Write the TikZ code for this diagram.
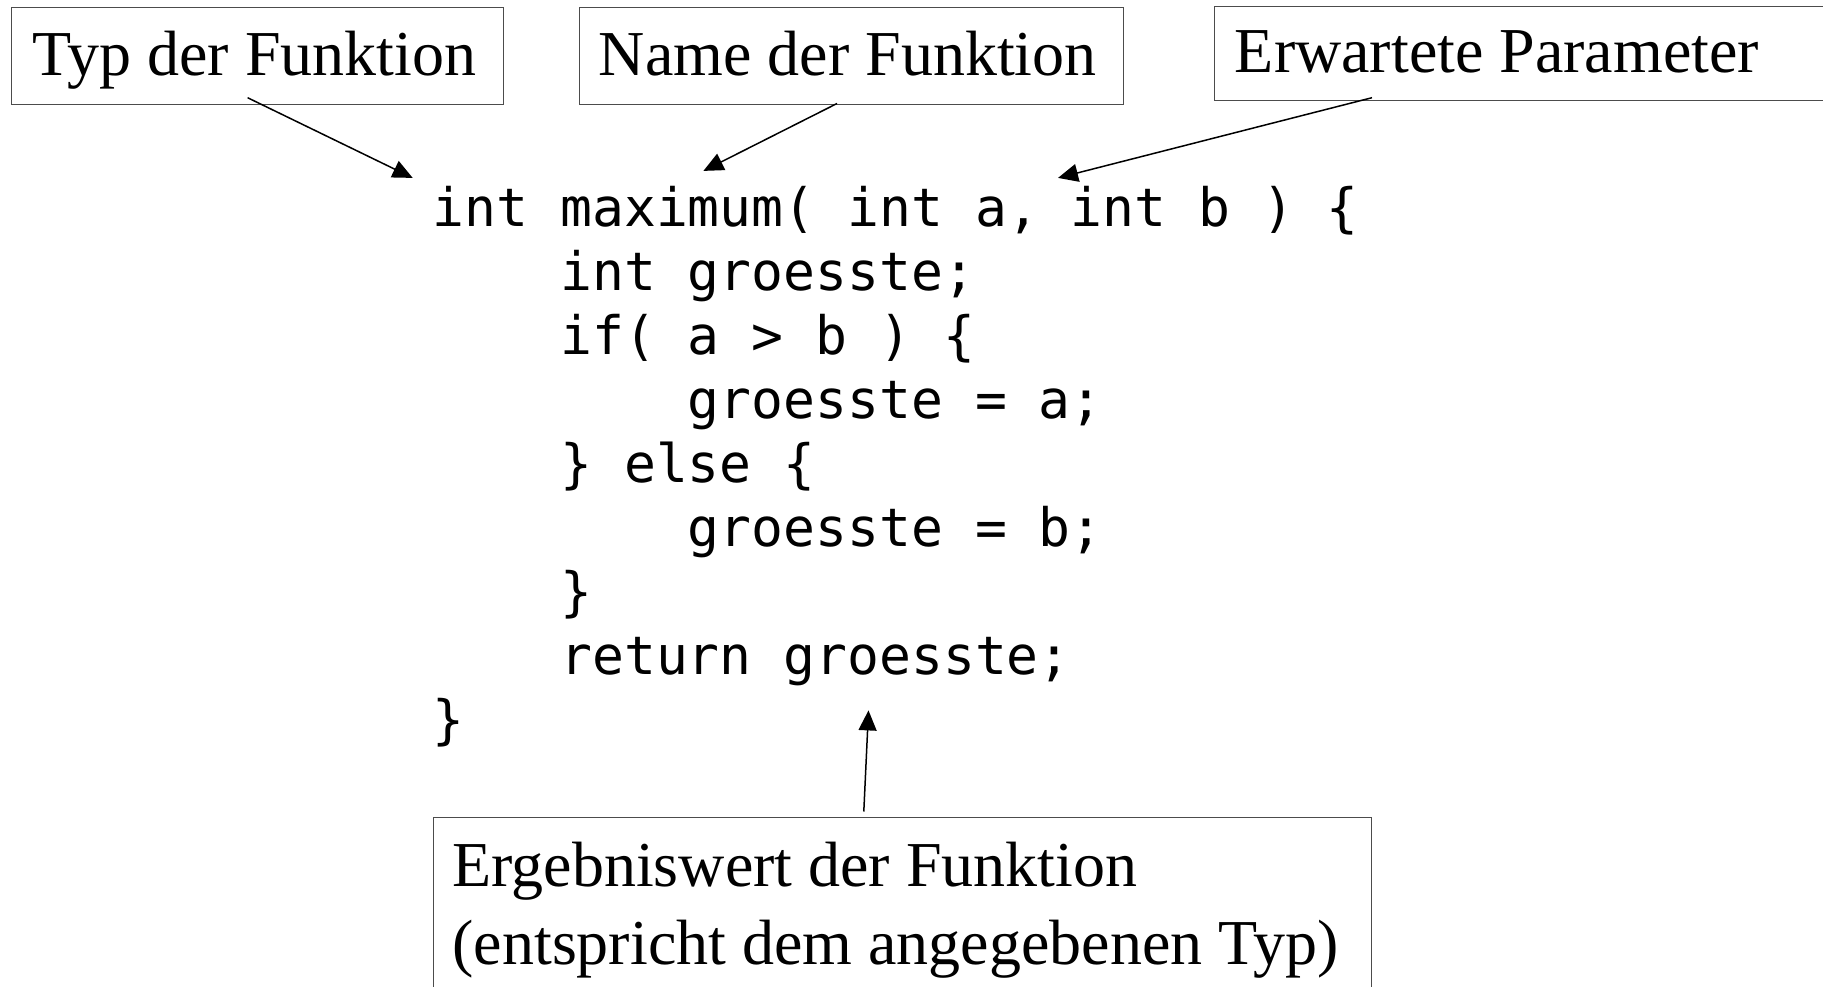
\documentclass[tikz,border=0pt]{standalone}
\usepackage{fontspec}
\setmainfont{Liberation Serif}
\setmonofont{DejaVu Sans Mono}
\usetikzlibrary{arrows.meta,calc}
\tikzset{
  boxshape/.style={draw=black!70, line width=1.2pt, anchor=north west, inner sep=0pt},
  lbltext/.style={anchor=base west, inner sep=0pt, font=\fontsize{64}{73}\selectfont},
  codeline/.style={anchor=base west, inner sep=0pt, font=\ttfamily\fontsize{53}{64}\selectfont},
  arr/.style={line width=1.5pt, -{Triangle[length=20pt,width=18pt]}}
}
\begin{document}
\begin{tikzpicture}[x=1pt,y=-1pt]
\useasboundingbox (0,0) rectangle (1823,986);
% label boxes
\node[boxshape, minimum width=492.5pt, minimum height=96.5pt] (typbox) at (10.5,7) {};
\node[boxshape, minimum width=544pt, minimum height=96.5pt] (namebox) at (579,7) {};
\node[boxshape, minimum width=620pt, minimum height=94pt] (parambox) at (1214,6) {};
\node[boxshape, minimum width=938.5pt, minimum height=190pt] (ergbox) at (432.5,817) {};
% label texts
\node[lbltext] (typ) at (32.5,75.6) {Typ der Funktion};
\node[lbltext] (name) at (598.7,75.6) {Name der Funktion};
\node[lbltext] (param) at (1234.7,72) {Erwartete Parameter};
\node[lbltext] (erg1) at (452.3,886) {Ergebniswert der Funktion};
\node[lbltext] (erg2) at (452.3,964) {(entspricht dem angegebenen Typ)};
% code
\def\cx{432.5}
\def\ch{31.9}
\node[codeline] (c1) at (\cx,226.7) {int maximum( int a, int b ) \{};
\node[codeline] (c2) at (\cx+4*\ch,290.6) {int groesste;};
\node[codeline] (c3) at (\cx+4*\ch,354.5) {if( a > b ) \{};
\node[codeline] (c4) at (\cx+8*\ch,418.5) {groesste = a;};
\node[codeline] (c5) at (\cx+4*\ch,482.4) {\} else \{};
\node[codeline] (c6) at (\cx+8*\ch,546.3) {groesste = b;};
\node[codeline] (c7) at (\cx+4*\ch,610.2) {\}};
\node[codeline] (c8) at (\cx+4*\ch,674.2) {return groesste;};
\node[codeline] (c9) at (\cx,738.1) {\}};
% arrow end points
\coordinate (s1) at (247.6,97.7);
\coordinate (t1) at (412.7,177.9);
\coordinate (s2) at (837,103.5);
\coordinate (t2) at (703.4,170.9);
\coordinate (s3) at (1372,97.7);
\coordinate (t3) at (1058,177.9);
\coordinate (s4) at (863.8,811.5);
\coordinate (t4) at (868.5,710.4);
\draw[arr] (s1) -- (t1);
\draw[arr] (s2) -- (t2);
\draw[arr] (s3) -- (t3);
\draw[arr] (s4) -- (t4);
\end{tikzpicture}
\end{document}
